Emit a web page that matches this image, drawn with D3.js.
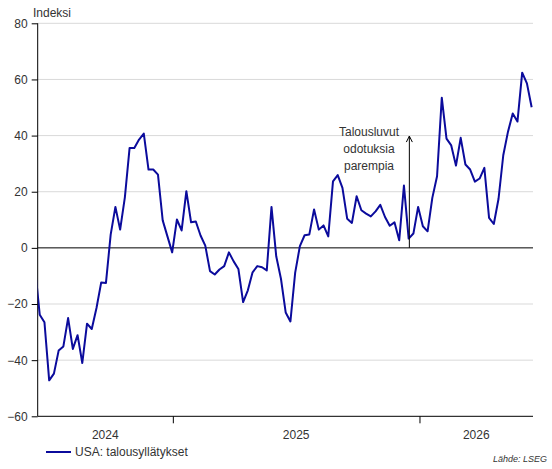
<!DOCTYPE html>
<html>
<head>
<meta charset="utf-8">
<script src="https://cdn.jsdelivr.net/npm/d3@7"></script>
<style>
  html, body { margin: 0; padding: 0; background: #fff; }
  svg { display: block; font-family: "Liberation Sans", Arial, sans-serif; }
</style>
</head>
<body>
<svg id="chart" width="552" height="469"></svg>
<script>
// ---- Data ----
const seriesName = "USA: talousyllätykset";
const firstWeek = "2024-06-11";   // date of first weekly observation
const values = [
  -7, -23.8, -26.5, -47.2, -44.8, -36.6, -35.1, -25, -36, -31.1,
  -41, -27, -28.9, -21.4, -12.3, -12.5, 4.7, 14.6, 6.5, 18,
  35.6, 35.6, 38.6, 40.7, 27.9, 27.9, 26.1, 9.8, 4.1, -1.6,
  10.1, 6.2, 20.2, 9.1, 9.4, 4.4, 0.8, -8.3, -9.5, -7.7,
  -6.5, -1.6, -4.8, -7.5, -19.3, -15.1, -8.7, -6.5, -6.9, -8,
  14.6, -3, -11, -23, -26.2, -8.9, 0.6, 4.5, 4.8, 13.7,
  6.5, 8, 4.1, 23.7, 25.9, 21.4, 10.4, 8.9, 18.4, 13.4,
  12.2, 11.2, 13, 15.3, 11, 7.9, 9.1, 2.7, 22.2, 3.3,
  5.1, 14.6, 7.7, 5.9, 17.8, 25.5, 53.5, 38.9, 36.5, 29.3,
  39.2, 29.7, 27.9, 23.6, 24.7, 28.5, 10.7, 8.5, 17.5, 33,
  41.4, 47.9, 45, 62.4, 58.6, 50.1
];
const yTicks = [-60, -40, -20, 0, 20, 40, 60, 80];
const yearLabels = ["2024", "2025", "2026"];
const xDomain = ["2024-06-15", "2026-06-18"];
const yAxisTitle = "Indeksi";
const annotationLines = ["Talousluvut", "odotuksia", "parempia"];
const annotationDate = "2025-12-17";
const annotationFrom = 0, annotationTo = 40;
const sourceText = "Lähde: LSEG";

(function () {
  const parse = d3.utcParse("%Y-%m-%d");
  const start = parse(firstWeek);
  const data = values.map((v, i) => ({ date: d3.utcDay.offset(start, 7 * i), value: v }));

  const svg = d3.select("#chart");
  const mLeft = 37.7, mRight = 533, mTop = 23.3, mBottom = 416.3;
  const textColor = "#333";

  const x = d3.scaleUtc().domain(xDomain.map(parse)).range([mLeft, mRight]);
  const y = d3.scaleLinear().domain([-60, 80]).range([mBottom, mTop]);

  // gridlines
  svg.append("g").selectAll("line")
    .data(yTicks.filter(t => t !== 0 && t !== -60))
    .join("line")
    .attr("x1", mLeft).attr("x2", mRight)
    .attr("y1", d => y(d)).attr("y2", d => y(d))
    .attr("stroke", "#d9d9d9").attr("stroke-width", 1);

  // y axis
  const yAxis = d3.axisLeft(y).tickValues(yTicks).tickSize(6).tickPadding(4);
  const gy = svg.append("g").attr("transform", `translate(${mLeft},0)`).call(yAxis);
  gy.select(".domain").attr("stroke", "#000").attr("d", `M0,${mTop}V${mBottom}`);
  gy.selectAll(".tick line").attr("stroke", "#000");
  gy.selectAll(".tick text").attr("fill", textColor).attr("font-size", 12)
    .attr("font-family", "Liberation Sans, Arial, sans-serif");

  // y title
  svg.append("text").attr("x", 33).attr("y", 17).attr("fill", textColor)
    .attr("font-size", 12).text(yAxisTitle);

  // x axis: ticks at year boundaries, labels centred in visible part of each year
  const boundaries = x.ticks(d3.utcYear.every(1)).filter(d => x(d) > mLeft && x(d) < mRight);
  const gx = svg.append("g").attr("transform", `translate(0,${mBottom})`)
    .call(d3.axisBottom(x).tickValues(boundaries).tickSize(7).tickFormat(""));
  gx.select(".domain").attr("stroke", "#000").attr("d", `M${mLeft},0H${mRight}`);
  gx.selectAll(".tick line").attr("stroke", "#000");

  const edges = [x.domain()[0], ...boundaries, x.domain()[1]];
  svg.append("g").selectAll("text")
    .data(yearLabels)
    .join("text")
    .attr("x", (d, i) => (x(edges[i]) + x(edges[i + 1])) / 2)
    .attr("y", 439)
    .attr("text-anchor", "middle")
    .attr("fill", textColor).attr("font-size", 12)
    .text(d => d);

  // zero line
  svg.append("line")
    .attr("x1", mLeft).attr("x2", mRight)
    .attr("y1", y(0)).attr("y2", y(0))
    .attr("stroke", "#000").attr("stroke-width", 1);

  // clip
  svg.append("clipPath").attr("id", "clip")
    .append("rect").attr("x", mLeft).attr("y", 0).attr("width", mRight - mLeft).attr("height", mBottom);

  // series
  const lineColor = "#0b0b9c";
  svg.append("path")
    .datum(data)
    .attr("clip-path", "url(#clip)")
    .attr("fill", "none")
    .attr("stroke", lineColor)
    .attr("stroke-width", 2)
    .attr("stroke-linejoin", "round")
    .attr("d", d3.line().x(d => x(d.date)).y(d => y(d.value)));

  // annotation arrow
  const ax = x(parse(annotationDate));
  const ay0 = y(annotationFrom), ay1 = y(annotationTo) + 0.5;
  svg.append("line").attr("x1", ax).attr("x2", ax).attr("y1", ay0).attr("y2", ay1)
    .attr("stroke", "#000").attr("stroke-width", 1);
  svg.append("path")
    .attr("d", `M${ax - 3},${ay1 + 6}L${ax},${ay1}L${ax + 3},${ay1 + 6}`)
    .attr("fill", "none").attr("stroke", "#000").attr("stroke-width", 1);

  svg.append("g").selectAll("text")
    .data(annotationLines)
    .join("text")
    .attr("x", 369)
    .attr("y", (d, i) => 136 + i * 17)
    .attr("text-anchor", "middle")
    .attr("fill", textColor).attr("font-size", 12)
    .text(d => d);

  // legend
  svg.append("line").attr("x1", 46).attr("x2", 71).attr("y1", 452).attr("y2", 452)
    .attr("stroke", lineColor).attr("stroke-width", 2);
  svg.append("text").attr("x", 75).attr("y", 456).attr("fill", textColor)
    .attr("font-size", 12).text(seriesName);

  // source
  svg.append("text").attr("x", 547).attr("y", 462).attr("text-anchor", "end")
    .attr("fill", textColor).attr("font-size", 9).attr("font-style", "italic")
    .text(sourceText);
})();
</script>
</body>
</html>
